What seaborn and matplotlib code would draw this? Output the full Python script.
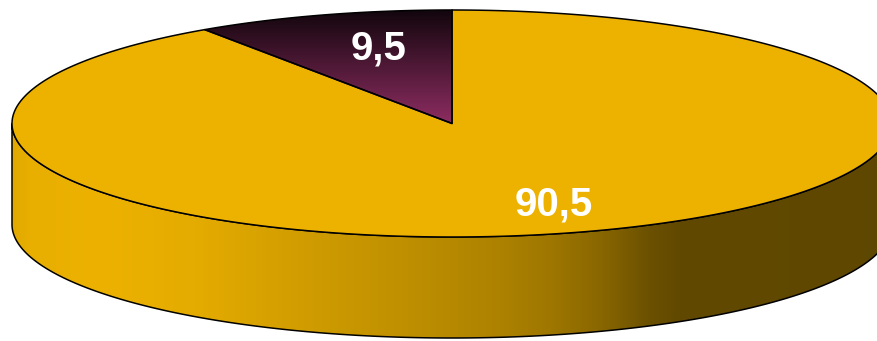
import numpy as np
import matplotlib
matplotlib.use("Agg")
import matplotlib.pyplot as plt
import seaborn as sns
from matplotlib.patches import Polygon
from matplotlib.colors import to_rgb

# Slice shares (percent) and their printed labels
shares = [9.5, 90.5]
share_labels = ["9,5", "90,5"]
slice_colors = ["#8E2D62", "#EDB200"]

sns.set_theme(style="white")
plt.rcParams["font.family"] = ["Liberation Sans", "DejaVu Sans"]

W, H = 878, 341
fig = plt.figure(figsize=(W / 100, H / 100), dpi=100)
ax = fig.add_axes([0, 0, 1, 1])

# Ellipse geometry of the tilted disc (pixel units)
cx, cy = 452.0, 123.5
a, b = 440.0, 113.5
depth = 101.0
edge_kw = dict(edgecolor="black", linewidth=1.1, joinstyle="round")


def rim(t, dy=0.0):
    return cx + a * np.cos(t), cy - b * np.sin(t) + dy


total = float(sum(shares))
bounds = np.pi / 2 + 2 * np.pi * np.concatenate([[0.0], np.cumsum(shares)]) / total

# Side wall shading across the width (light left, dark right)
shade_x = [0, 12, 30, 100, 200, 300, 400, 500, 550, 600, 650, 680, 878]
shade_f = [0.95, 0.95, 0.98, 1.0, 0.96, 0.88, 0.81, 0.73, 0.67, 0.58, 0.45, 0.41, 0.40]
xg = np.linspace(0, W, W + 1)
xshade = np.interp(xg, shade_x, shade_f)

for i in range(len(shares)):
    lo = max(bounds[i], np.pi)
    hi = min(bounds[i + 1], 2 * np.pi)
    if hi <= lo:
        continue
    t = np.linspace(lo, hi, 400)
    xs, ys = rim(t)
    xb, yb = rim(t[::-1], depth)
    pts = np.column_stack([np.concatenate([xs, xb]), np.concatenate([ys, yb])])
    wall = Polygon(pts, closed=True, facecolor="none", **edge_kw, zorder=3)
    ax.add_patch(wall)
    base = np.array(to_rgb(slice_colors[i]))
    img = np.clip(base[None, None, :] * xshade[None, :, None], 0, 1)
    im = ax.imshow(img, extent=[0, W, H, 0], aspect="auto",
                   interpolation="bilinear", zorder=2)
    im.set_clip_path(wall)

# Top faces of the slices
top_shade = {0: ([0, 10, 124, H], [0.13, 0.13, 1.0, 1.0])}
for i in range(len(shares)):
    t = np.linspace(bounds[i], bounds[i + 1], 600)
    xs, ys = rim(t)
    pts = np.column_stack([np.concatenate([[cx], xs]), np.concatenate([[cy], ys])])
    if i in top_shade:
        face = Polygon(pts, closed=True, facecolor="none", **edge_kw, zorder=5)
        ax.add_patch(face)
        yg = np.linspace(0, H, H + 1)
        f = np.interp(yg, *top_shade[i])
        base = np.array(to_rgb(slice_colors[i]))
        img = np.clip(base[None, None, :] * f[:, None, None], 0, 1)
        im = ax.imshow(img, extent=[0, W, H, 0], aspect="auto",
                       interpolation="bilinear", zorder=4)
        im.set_clip_path(face)
    else:
        face = Polygon(pts, closed=True, facecolor=slice_colors[i], **edge_kw, zorder=4)
        ax.add_patch(face)

# Value labels
label_xy = [(379, 60), (554, 215)]
for lab, (lx, ly) in zip(share_labels, label_xy):
    ax.text(lx, ly, lab, color="white", fontsize=29, fontweight="bold",
            ha="center", va="baseline", zorder=6)

ax.set_xlim(0, W)
ax.set_ylim(H, 0)
ax.set_aspect("auto")
ax.axis("off")
fig.savefig("out.png", dpi=100, facecolor="white")
